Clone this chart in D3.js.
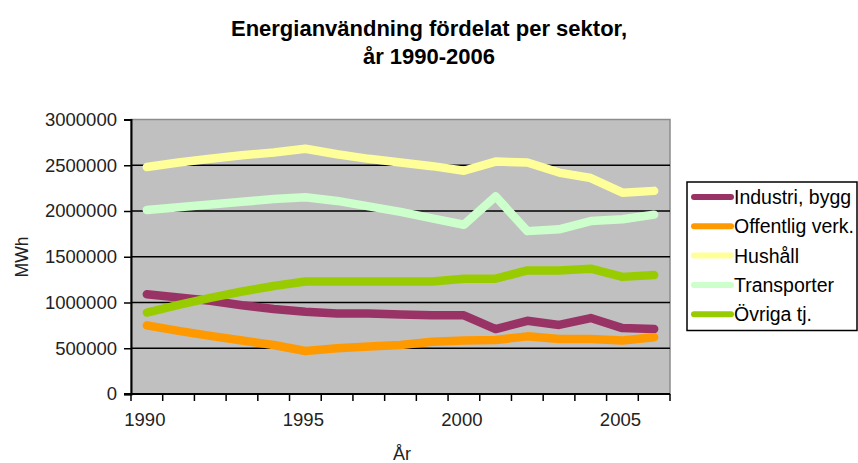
<!DOCTYPE html>
<html>
<head>
<meta charset="utf-8">
<script src="https://cdn.jsdelivr.net/npm/d3@7"></script>
<style>
  body { margin: 0; background: #fff; }
  svg { font-family: "Liberation Sans", Arial, sans-serif; }
</style>
</head>
<body>
<div id="chart"></div>
<script>
// years on the category axis
var years = [1990, 1991, 1992, 1993, 1994, 1995, 1996, 1997, 1998, 1999,
             2000, 2001, 2002, 2003, 2004, 2005, 2006];

// MWh per sector
var industri = [1090000, 1055000, 1020000, 970000, 930000, 900000, 880000, 880000, 870000, 860000,
                860000, 710000, 800000, 755000, 830000, 720000, 710000];
var offentlig = [750000, 690000, 635000, 585000, 535000, 470000, 500000, 520000, 535000, 570000,
                 585000, 590000, 630000, 600000, 600000, 585000, 620000];
var hushall = [2480000, 2530000, 2570000, 2610000, 2640000, 2680000, 2620000, 2570000, 2530000, 2490000,
               2440000, 2540000, 2530000, 2420000, 2360000, 2200000, 2220000];
var transporter = [2010000, 2040000, 2070000, 2100000, 2130000, 2150000, 2110000, 2050000, 1990000, 1920000,
                   1850000, 2160000, 1780000, 1800000, 1890000, 1910000, 1960000];
var ovriga = [890000, 975000, 1050000, 1120000, 1180000, 1230000, 1230000, 1230000, 1230000, 1230000,
              1260000, 1260000, 1350000, 1350000, 1370000, 1280000, 1300000];

var seriesNames = ["Industri, bygg", "Offentlig verk.", "Hushåll", "Transporter", "Övriga tj."];
var seriesColors = ["#993366", "#ff9900", "#ffff99", "#ccffcc", "#99cc00"];
var seriesValues = [industri, offentlig, hushall, transporter, ovriga];

var yTicks = [0, 500000, 1000000, 1500000, 2000000, 2500000, 3000000];
var xLabels = [1990, 1995, 2000, 2005];

var width = 858, height = 463;
var plot = { left: 131, top: 119.5, right: 670, bottom: 394 };

var svg = d3.select("#chart").append("svg")
  .attr("width", width)
  .attr("height", height);

// title
var title = svg.append("text")
  .attr("text-anchor", "middle")
  .style("font-weight", "bold")
  .style("font-size", "22px")
  .attr("fill", "#000");
title.append("tspan").attr("x", 429).attr("y", 36).text("Energianvändning fördelat per sektor,");
title.append("tspan").attr("x", 429).attr("y", 64).text("år 1990-2006");

var x = d3.scaleBand()
  .domain(years)
  .range([plot.left, plot.right])
  .padding(0);

var y = d3.scaleLinear()
  .domain([0, 3000000])
  .range([plot.bottom, plot.top]);

// plot area background
svg.append("rect")
  .attr("x", plot.left)
  .attr("y", plot.top)
  .attr("width", plot.right - plot.left)
  .attr("height", plot.bottom - plot.top)
  .attr("fill", "#c0c0c0")
  .attr("stroke", "#8c8c8c")
  .attr("stroke-width", 1.5);

// gridlines
svg.append("g")
  .selectAll("line")
  .data(yTicks.filter(function (d) { return d > 0 && d < 3000000; }))
  .enter()
  .append("line")
  .attr("x1", plot.left)
  .attr("x2", plot.right)
  .attr("y1", function (d) { return y(d); })
  .attr("y2", function (d) { return y(d); })
  .attr("stroke", "#000")
  .attr("stroke-width", 1.5);

// y axis
var yAxis = svg.append("g")
  .attr("transform", "translate(" + plot.left + ",0)")
  .call(d3.axisLeft(y).tickValues(yTicks).tickSize(7).tickPadding(7).tickFormat(d3.format("d")));
yAxis.select(".domain").attr("stroke-width", 2);
yAxis.selectAll(".tick line").attr("stroke-width", 1.5);
yAxis.selectAll("text").style("font-size", "18.5px").attr("fill", "#222").attr("font-family", null);

// x axis: ticks between categories, labels every fifth year
var xAxis = svg.append("g")
  .attr("transform", "translate(0," + plot.bottom + ")");
xAxis.append("line")
  .attr("x1", plot.left - 7)
  .attr("x2", plot.right)
  .attr("stroke", "#000")
  .attr("stroke-width", 2);
xAxis.selectAll(".xtick")
  .data(years.concat([null]))
  .enter()
  .append("line")
  .attr("class", "xtick")
  .attr("x1", function (d) { return d === null ? plot.right : x(d); })
  .attr("x2", function (d) { return d === null ? plot.right : x(d); })
  .attr("y1", 0)
  .attr("y2", 7)
  .attr("stroke", "#000")
  .attr("stroke-width", 1.5);
xAxis.selectAll(".xlabel")
  .data(xLabels)
  .enter()
  .append("text")
  .attr("class", "xlabel")
  .attr("x", function (d) { return x(d) + x.bandwidth() / 2 - 2; })
  .attr("y", 32)
  .attr("text-anchor", "middle")
  .style("font-size", "18.5px")
  .attr("fill", "#222")
  .text(function (d) { return d; });

// axis titles
svg.append("text")
  .attr("x", 402)
  .attr("y", 460)
  .attr("text-anchor", "middle")
  .style("font-size", "18px")
  .attr("fill", "#222")
  .text("År");

svg.append("text")
  .attr("transform", "translate(28,257) rotate(-90)")
  .attr("text-anchor", "middle")
  .style("font-size", "17.5px")
  .attr("fill", "#222")
  .text("MWh");

// series lines
var line = d3.line()
  .x(function (d, i) { return x(years[i]) + x.bandwidth() / 2; })
  .y(function (d) { return y(d); });

svg.append("g")
  .selectAll("path")
  .data(seriesValues)
  .enter()
  .append("path")
  .attr("d", line)
  .attr("fill", "none")
  .attr("stroke", function (d, i) { return seriesColors[i]; })
  .attr("stroke-width", 8.5)
  .attr("stroke-linejoin", "round")
  .attr("stroke-linecap", "round");

// legend
var legend = svg.append("g");
legend.append("rect")
  .attr("x", 687)
  .attr("y", 182)
  .attr("width", 170)
  .attr("height", 148.5)
  .attr("fill", "#fff")
  .attr("stroke", "#000")
  .attr("stroke-width", 1.5);

var item = legend.selectAll(".item")
  .data(seriesNames)
  .enter()
  .append("g")
  .attr("class", "item")
  .attr("transform", function (d, i) { return "translate(0," + (197 + i * 29.3) + ")"; });

item.append("line")
  .attr("x1", 694)
  .attr("x2", 731)
  .attr("stroke", function (d, i) { return seriesColors[i]; })
  .attr("stroke-width", 6)
  .attr("stroke-linecap", "round");

item.append("text")
  .attr("x", 734)
  .attr("y", 7)
  .style("font-size", "19.5px")
  .attr("fill", "#000")
  .text(function (d) { return d; });
</script>
</body>
</html>
